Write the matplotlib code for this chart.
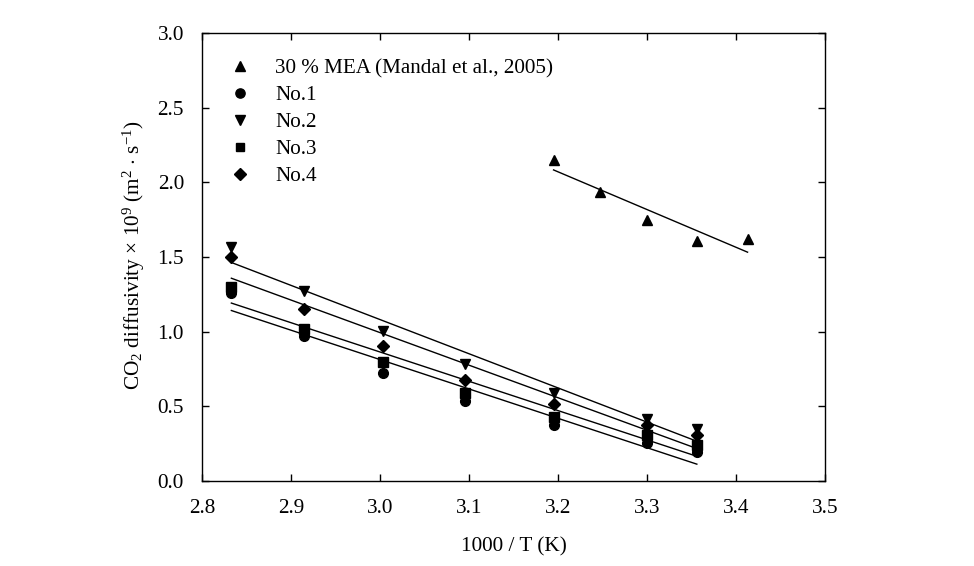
import numpy as np
import matplotlib
matplotlib.use("Agg")
import matplotlib.pyplot as plt
from matplotlib.lines import Line2D

plt.rcParams['font.family'] = ['Liberation Serif', 'DejaVu Serif']
plt.rcParams['mathtext.fontset'] = 'custom'
plt.rcParams['mathtext.rm'] = 'Liberation Serif'
plt.rcParams['mathtext.it'] = 'Liberation Serif:italic'

# Data: 1000/T (K) and CO2 diffusivity x 1e9 (m2/s)
x_mea = [3.195, 3.247, 3.300, 3.356, 3.413]
y_mea = [2.150, 1.934, 1.748, 1.610, 1.619]

x_no = [2.833, 2.915, 3.003, 3.096, 3.195, 3.300, 3.356]
y_no1 = [1.261, 0.971, 0.726, 0.538, 0.375, 0.252, 0.196]
y_no2 = [1.565, 1.273, 1.005, 0.781, 0.587, 0.413, 0.346]
y_no3 = [1.302, 1.018, 0.795, 0.587, 0.427, 0.308, 0.241]
y_no4 = [1.503, 1.152, 0.904, 0.676, 0.516, 0.375, 0.308]

labels = ['30 % MEA (Mandal et al., 2005)', 'No.1', 'No.2', 'No.3', 'No.4']
markers = ['^', 'o', 'v', 's', 'D']

x_ticks = [2.8, 2.9, 3.0, 3.1, 3.2, 3.3, 3.4, 3.5]
y_ticks = [0.0, 0.5, 1.0, 1.5, 2.0, 2.5, 3.0]

fig = plt.figure(figsize=(9.74, 5.66), dpi=100)
ax = fig.add_axes([202/974, 1-481/566, 623/974, 448/566])

series = [(x_mea, y_mea), (x_no, y_no1), (x_no, y_no2), (x_no, y_no3), (x_no, y_no4)]
sizes = [7.5, 7.0, 7.5, 6.8, 6.2]
handles = []
for (xs, ys), m, lab, ms in zip(series, markers, labels, sizes):
    xs = np.asarray(xs); ys = np.asarray(ys)
    k, b = np.polyfit(xs, ys, 1)
    xl = np.array([xs.min(), xs.max()])
    ax.plot(xl, k*xl + b, color='black', lw=1.0, zorder=2)
    ax.plot(xs, ys, linestyle='none', marker=m, color='black', ms=ms, zorder=3)
    handles.append(Line2D([], [], linestyle='none', marker=m, color='black', ms=ms*0.95))

ax.set_xlim(2.8, 3.5)
ax.set_ylim(0.0, 3.0)
ax.set_xticks(x_ticks)
ax.set_yticks(y_ticks)
ax.set_xticklabels([f"{t:.1f}" for t in x_ticks])
ax.set_yticklabels([f"{t:.1f}" for t in y_ticks])
ax.tick_params(direction='in', length=5, width=1.0, top=True, right=True,
               labelsize=15.3, pad=13)
for s in ax.spines.values():
    s.set_linewidth(1.0)

ax.set_xlabel('1000 / T (K)', fontsize=15.3)
ax.xaxis.set_label_coords(0.5, -0.125)
ax.set_ylabel(r'CO$_2$ diffusivity $\times$ 10$^9$ (m$^2$ $\cdot$ s$^{-1}$)', fontsize=15.3)
ax.yaxis.set_label_coords(-0.088, 0.505)

ax.legend(handles, labels, loc='upper left', frameon=False, fontsize=15.2,
          handlelength=1.0, handletextpad=1.15, labelspacing=0.34,
          borderaxespad=0.0, bbox_to_anchor=(0.031, 0.962))

fig.savefig('out.png', dpi=100)
